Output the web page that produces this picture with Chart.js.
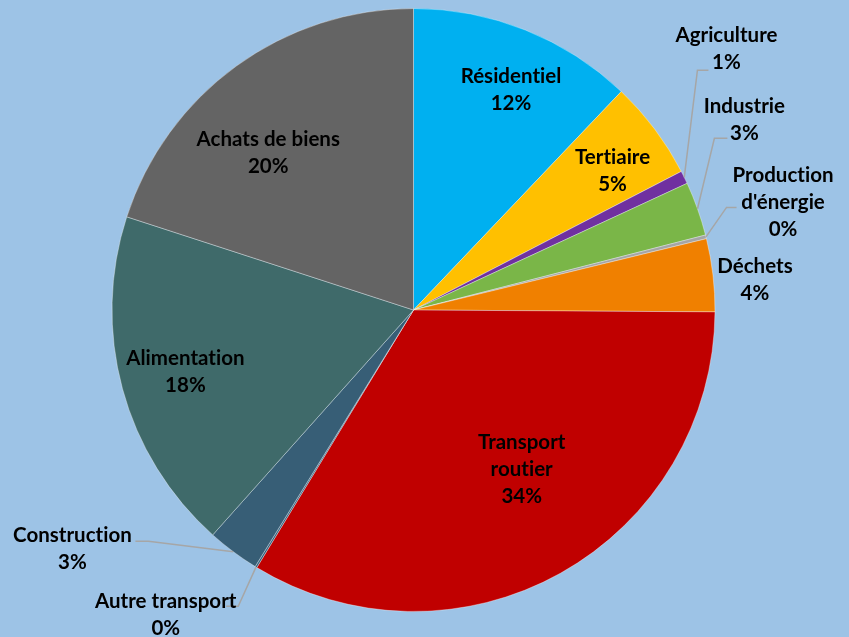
<!DOCTYPE html>
<html>
<head>
<meta charset="utf-8">
<script src="https://cdn.jsdelivr.net/npm/chart.js@4/dist/chart.umd.min.js"></script>
<style>
  html, body { margin: 0; padding: 0; background: #9DC3E6; }
  #wrap { width: 849px; height: 637px; }
</style>
</head>
<body>
<div id="wrap"><canvas id="c" width="849" height="637"></canvas></div>
<script>
// ---- data ----
const categories = ["Résidentiel", "Tertiaire", "Agriculture", "Industrie", "Production d'énergie", "Déchets", "Transport routier", "Autre transport", "Construction", "Alimentation", "Achats de biens"];
const labelLines = [["Résidentiel"], ["Tertiaire"], ["Agriculture"], ["Industrie"], ["Production", "d'énergie"], ["Déchets"], ["Transport", "routier"], ["Autre transport"], ["Construction"], ["Alimentation"], ["Achats de biens"]];
const shares = [12.1, 5.3, 0.7, 2.9, 0.2, 3.9, 33.6, 0.1, 2.8, 18.4, 20.0];
const colors = ["#00B0F0", "#FFC000", "#7030A0", "#7AB648", "#A5A5A5", "#F08000", "#C00000", "#2F5F7A", "#375E76", "#3F6A6A", "#646464"];

// ---- label layout (polar: angle clockwise from top in degrees, radius as fraction of pie radius) ----
const labelLayout = [
  { a: 23.9, r: 0.798 },
  { a: 55.1, r: 0.805 },
  { a: 50.2, r: 1.351, leader: [[-29, 21], [-18, 21]] },
  { a: 60.1, r: 1.266, leader: [[-30, 18.5], [-17, 18.5]] },
  { a: 73.7, r: 1.277, leader: [[-56.5, 5.5], [-46.5, 5.5]] },
  { a: 84.9, r: 1.137 },
  { a: 145.9, r: 0.640 },
  { a: 219.1, r: 1.303, leader: [[72.5, -8.5], [60.5, -8.5]] },
  { a: 235.0, r: 1.381, leader: [[76, -7.5], [63, -7.5]] },
  { a: 254.8, r: 0.784 },
  { a: 317.2, r: 0.709 }
];

const labelPlugin = {
  id: 'sliceLabels',
  afterDatasetsDraw(chart) {
    const meta = chart.getDatasetMeta(0);
    const ctx = chart.ctx;
    const total = shares.reduce((s, v) => s + v, 0);
    ctx.save();
    meta.data.forEach((arc, i) => {
      const cx = arc.x, cy = arc.y, R = arc.outerRadius;
      const L = labelLayout[i];
      const ang = L.a * Math.PI / 180;
      const lx = cx + R * L.r * Math.sin(ang);
      const ly = cy - R * L.r * Math.cos(ang);
      const lines = labelLines[i].concat([Math.round(shares[i] / total * 100) + "%"]);
      const lh = 27;
      if (L.leader) {
        const mid = (arc.startAngle + arc.endAngle) / 2;
        const sx = cx + R * Math.cos(mid);
        const sy = cy + R * Math.sin(mid);
        ctx.beginPath();
        ctx.strokeStyle = '#A6A6A6';
        ctx.lineWidth = 1.5;
        ctx.moveTo(sx, sy);
        ctx.lineTo(lx + L.leader[0][0], ly + L.leader[0][1]);
        ctx.lineTo(lx + L.leader[1][0], ly + L.leader[1][1]);
        ctx.stroke();
      }
      ctx.fillStyle = '#000000';
      ctx.font = 'bold 20.5px Lato, "Open Sans", sans-serif';
      if ('letterSpacing' in ctx) ctx.letterSpacing = '0.01px';
      ctx.textAlign = 'center';
      ctx.textBaseline = 'middle';
      const top = ly - (lines.length - 1) * lh / 2;
      lines.forEach((t, k) => ctx.fillText(t, lx, top + k * lh));
    });
    ctx.restore();
  }
};

new Chart(document.getElementById('c'), {
  type: 'pie',
  data: {
    labels: categories,
    datasets: [{
      data: shares,
      backgroundColor: colors,
      borderColor: 'rgba(255,255,255,0.35)',
      borderWidth: 1
    }]
  },
  options: {
    responsive: false,
    animation: false,
    layout: { padding: { top: 8, bottom: 25, left: 111, right: 133 } },
    plugins: { legend: { display: false }, tooltip: { enabled: false } }
  },
  plugins: [labelPlugin]
});
</script>
</body>
</html>
